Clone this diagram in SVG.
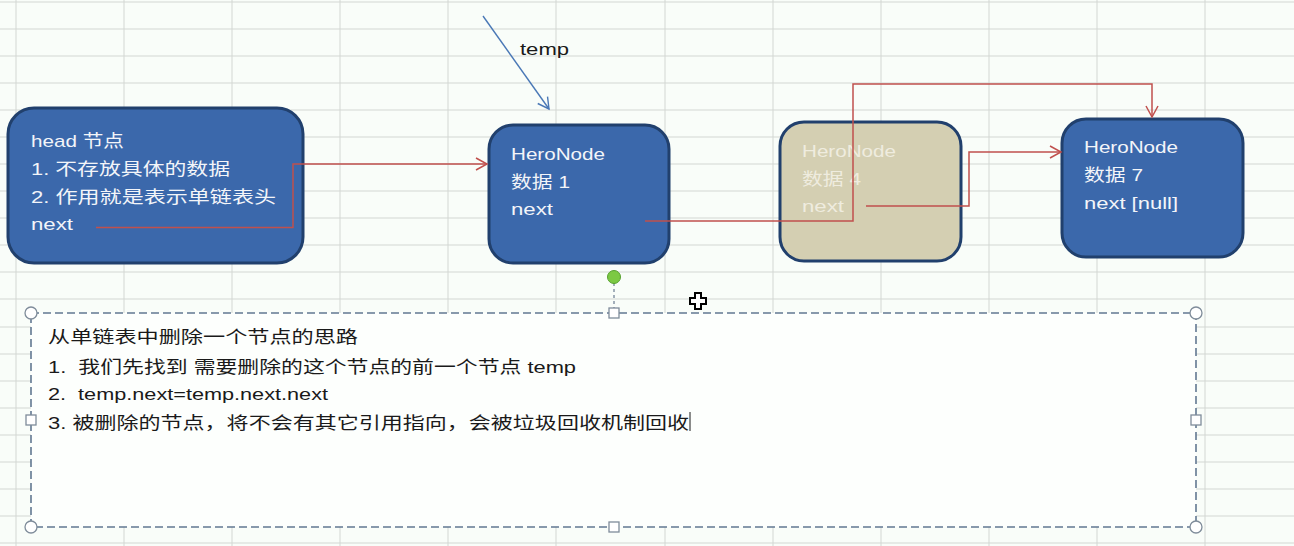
<svg xmlns="http://www.w3.org/2000/svg" width="1294" height="546" viewBox="0 0 1294 546">
<defs>
<style>
.grid line{stroke:#d3d7d3;stroke-width:1}
.node rect{stroke:#21406d;stroke-width:3}
.blue{fill:#3b68ab}
.tan{fill:#d4cfb2}
.t{font-family:"Liberation Sans","Noto Sans CJK SC",sans-serif;font-size:17px;fill:#f3f5f9}
.t4{fill:#efecdf}
.d{font-family:"Liberation Sans","Noto Sans CJK SC",sans-serif;font-size:17px;fill:#1a1a1a;white-space:pre}
.conn{stroke:#c0504d;stroke-width:1.5;fill:none}
.h{fill:#ffffff;stroke:#7f8c9a;stroke-width:1.3}
</style>
<marker id="ar" markerUnits="userSpaceOnUse" markerWidth="14" markerHeight="14" refX="12" refY="7" orient="auto">
<path d="M1,1 L12,7 L1,13" fill="none" stroke="#c0504d" stroke-width="1.5"/>
</marker>
<marker id="ab" markerUnits="userSpaceOnUse" markerWidth="14" markerHeight="14" refX="12" refY="7" orient="auto">
<path d="M1,1 L12,7 L1,13" fill="none" stroke="#4a78b6" stroke-width="1.4"/>
</marker>
</defs>
<rect width="1294" height="546" fill="#f9fdf9"/>
<g class="grid">
<line x1="16" y1="0" x2="16" y2="546"/><line x1="124" y1="0" x2="124" y2="546"/><line x1="232" y1="0" x2="232" y2="546"/><line x1="340" y1="0" x2="340" y2="546"/><line x1="448" y1="0" x2="448" y2="546"/><line x1="556" y1="0" x2="556" y2="546"/><line x1="665" y1="0" x2="665" y2="546"/><line x1="773" y1="0" x2="773" y2="546"/><line x1="881" y1="0" x2="881" y2="546"/><line x1="989" y1="0" x2="989" y2="546"/><line x1="1097" y1="0" x2="1097" y2="546"/><line x1="1205" y1="0" x2="1205" y2="546"/>
<line x1="0" y1="2" x2="1294" y2="2"/><line x1="0" y1="29" x2="1294" y2="29"/><line x1="0" y1="56" x2="1294" y2="56"/><line x1="0" y1="83" x2="1294" y2="83"/><line x1="0" y1="110" x2="1294" y2="110"/><line x1="0" y1="137" x2="1294" y2="137"/><line x1="0" y1="164" x2="1294" y2="164"/><line x1="0" y1="191" x2="1294" y2="191"/><line x1="0" y1="218" x2="1294" y2="218"/><line x1="0" y1="245" x2="1294" y2="245"/><line x1="0" y1="272" x2="1294" y2="272"/><line x1="0" y1="299" x2="1294" y2="299"/><line x1="0" y1="327" x2="1294" y2="327"/><line x1="0" y1="354" x2="1294" y2="354"/><line x1="0" y1="381" x2="1294" y2="381"/><line x1="0" y1="408" x2="1294" y2="408"/><line x1="0" y1="435" x2="1294" y2="435"/><line x1="0" y1="462" x2="1294" y2="462"/><line x1="0" y1="489" x2="1294" y2="489"/><line x1="0" y1="516" x2="1294" y2="516"/><line x1="0" y1="543" x2="1294" y2="543"/>
</g>
<g id="head" class="node">
<rect class="blue" x="8" y="108" width="295" height="155" rx="26"/>
<text class="t" x="31" y="147" textLength="93" lengthAdjust="spacingAndGlyphs">head 节点</text>
<text class="t" x="31" y="175" textLength="199" lengthAdjust="spacingAndGlyphs">1. 不存放具体的数据</text>
<text class="t" x="31" y="203" textLength="245" lengthAdjust="spacingAndGlyphs">2. 作用就是表示单链表头</text>
<text class="t" x="31" y="230" textLength="42" lengthAdjust="spacingAndGlyphs">next</text>
</g>
<g id="node1" class="node">
<rect class="blue" x="489" y="125" width="180" height="138" rx="24"/>
<text class="t" x="511" y="160" textLength="94" lengthAdjust="spacingAndGlyphs">HeroNode</text>
<text class="t" x="511" y="188" textLength="59" lengthAdjust="spacingAndGlyphs">数据 1</text>
<text class="t" x="511" y="215" textLength="42" lengthAdjust="spacingAndGlyphs">next</text>
</g>
<g id="node4" class="node">
<rect class="tan" x="780" y="122" width="181" height="139" rx="24"/>
<text class="t t4" x="802" y="157" textLength="94" lengthAdjust="spacingAndGlyphs">HeroNode</text>
<text class="t t4" x="802" y="185" textLength="59" lengthAdjust="spacingAndGlyphs">数据 4</text>
<text class="t t4" x="802" y="212" textLength="42" lengthAdjust="spacingAndGlyphs">next</text>
</g>
<g id="node7" class="node">
<rect class="blue" x="1062" y="119" width="181" height="138" rx="24"/>
<text class="t" x="1084" y="153" textLength="94" lengthAdjust="spacingAndGlyphs">HeroNode</text>
<text class="t" x="1084" y="181" textLength="59" lengthAdjust="spacingAndGlyphs">数据 7</text>
<text class="t" x="1084" y="209" textLength="94" lengthAdjust="spacingAndGlyphs">next [null]</text>
</g>
<g id="connectors">
<polyline class="conn" points="96,227.5 293,227.5 293,164 487,164" marker-end="url(#ar)"/>
<polyline class="conn" points="645,221 853,221 853,84 1152,84 1152,117" marker-end="url(#ar)"/>
<polyline class="conn" points="866,206 969,206 969,152 1061,152" marker-end="url(#ar)"/>
<line x1="483" y1="16" x2="549" y2="109" stroke="#4a78b6" stroke-width="1.4" marker-end="url(#ab)"/>
</g>
<g id="temp-label">
<text x="520" y="55" font-family="Liberation Sans, Noto Sans CJK SC, sans-serif" font-size="17" fill="#1a1a1a" textLength="49" lengthAdjust="spacingAndGlyphs">temp</text>
</g>
<g id="note">
<line x1="614" y1="283" x2="614" y2="309" stroke="#6a7c90" stroke-width="1.2" stroke-dasharray="3 3"/>
<circle cx="614" cy="277" r="6.5" fill="#7cc943" stroke="#56a02e" stroke-width="1"/>
<rect x="31" y="313" width="1165" height="214" fill="#fdfffd" stroke="#627891" stroke-width="1.6" stroke-dasharray="8 4"/>
<text class="d" x="48" y="343" textLength="310" lengthAdjust="spacingAndGlyphs">从单链表中删除一个节点的思路</text>
<text class="d" x="48" y="373" textLength="528" lengthAdjust="spacingAndGlyphs">1.  我们先找到 需要删除的这个节点的前一个节点 temp</text>
<text class="d" x="48" y="400" textLength="280" lengthAdjust="spacingAndGlyphs">2.  temp.next=temp.next.next</text>
<text class="d" x="48" y="429" textLength="641" lengthAdjust="spacingAndGlyphs">3. 被删除的节点，将不会有其它引用指向，会被垃圾回收机制回收</text>
<line x1="690" y1="412" x2="690" y2="431" stroke="#1a1a1a" stroke-width="1"/>
<circle class="h" cx="31" cy="313" r="6"/>
<circle class="h" cx="1196" cy="313" r="6"/>
<circle class="h" cx="31" cy="527" r="6"/>
<circle class="h" cx="1196" cy="527" r="6"/>
<rect class="h" x="609" y="308" width="10" height="10"/>
<rect class="h" x="609" y="522" width="10" height="10"/>
<rect class="h" x="26" y="415" width="10" height="10"/>
<rect class="h" x="1191" y="415" width="10" height="10"/>
</g>
<path d="M695,293 h6 v5 h5 v6 h-5 v5 h-6 v-5 h-5 v-6 h5 z" fill="#ffffff" stroke="#000000" stroke-width="2"/>
</svg>
